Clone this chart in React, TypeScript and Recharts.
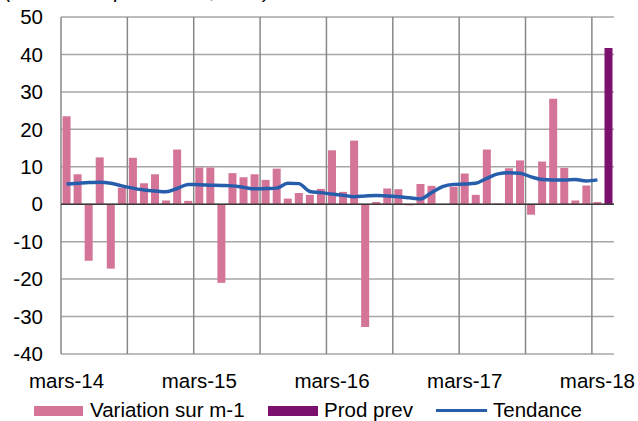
import React from 'react';
import { ComposedChart, Bar, Line, XAxis, YAxis, CartesianGrid, ReferenceLine } from 'recharts';

// month labels, mars-14 .. avr.-18
const monthNames = ['janv.', 'févr.', 'mars', 'avr.', 'mai', 'juin', 'juil.', 'août', 'sept.', 'oct.', 'nov.', 'déc.'];
const firstYear = 14;
const firstMonth = 2; // mars
const monthCount = 50;

const months: string[] = [];
for (let i = 0; i < monthCount; i++) {
  const m = (firstMonth + i) % 12;
  const y = firstYear + Math.floor((firstMonth + i) / 12);
  months.push(`${monthNames[m]}-${y}`);
}

// Variation sur m-1
const variation = [
  23.5, 8.0, -15.1, 12.5, -17.2, 4.4, 12.4, 5.6, 8.0, 1.0, 14.6, 0.9,
  9.8, 9.8, -21.0, 8.3, 7.2, 8.0, 6.5, 9.5, 1.5, 3.0, 2.5, 4.1,
  14.4, 3.3, 17.0, -32.8, 0.6, 4.2, 4.0, -0.3, 5.4, 4.9, 0, 4.7,
  8.2, 2.5, 14.6, 0.2, 9.6, 11.7, -2.8, 11.4, 28.2, 9.7, 1.0, 5.0,
  0.6, null,
];

// Prod prev (only the last month)
const prodPrev = [
  null, null, null, null, null, null, null, null, null, null, null, null,
  null, null, null, null, null, null, null, null, null, null, null, null,
  null, null, null, null, null, null, null, null, null, null, null, null,
  null, null, null, null, null, null, null, null, null, null, null, null,
  null, 41.7,
];

// Tendance
const tendance = [
  5.4, 5.6, 5.8, 5.9, 5.6, 4.9, 4.3, 3.8, 3.5, 3.3, 4.2, 5.3,
  5.2, 5.1, 5.0, 4.9, 4.5, 4.1, 4.2, 4.3, 5.6, 5.5, 3.4, 3.1,
  2.7, 2.4, 2.0, 2.2, 2.3, 2.2, 2.0, 1.7, 1.4, 3.1, 4.7, 5.3,
  5.4, 5.6, 6.9, 8.1, 8.4, 8.3, 7.3, 6.6, 6.5, 6.5, 6.6, 6.2,
  6.5, null,
];

const yTicks = [-40, -30, -20, -10, 0, 10, 20, 30, 40, 50];

const data = months.map((month, i) => ({
  month,
  variation: variation[i],
  prodPrev: prodPrev[i],
  tendance: tendance[i],
}));

const PINK = '#D47498';
const PURPLE = '#7B106F';
const BLUE = '#275EAC';
const FONT = '"Liberation Sans", Arial, sans-serif';
const FS = 20.5;

export default function App() {
  return (
    <div style={{ position: 'absolute', left: 0, top: 0, width: 638, height: 421, fontFamily: FONT, overflow: 'hidden', background: '#fff' }}>
      <div style={{ position: 'absolute', left: 5, top: -19, fontSize: FS, lineHeight: '20px', fontStyle: 'italic', whiteSpace: 'nowrap' }}>
        (en % de la production, CVS)
      </div>
      <ComposedChart
        width={638}
        height={421}
        data={data}
        margin={{ top: 17, right: 24, bottom: 37, left: 0 }}
        barCategoryGap="14%"
      >
        <CartesianGrid vertical={false} stroke="#a6a6a6" strokeWidth={1.5} />
        <CartesianGrid
          horizontal={false}
          stroke="#888"
          strokeWidth={1.5}
          verticalCoordinatesGenerator={({ offset }: any) => {
            const step = offset.width / monthCount;
            const xs: number[] = [];
            for (let i = 0; i < monthCount; i += 6) xs.push(offset.left + i * step);
            return xs;
          }}
        />
        <XAxis
          dataKey="month"
          interval={0}
          axisLine={false}
          tickLine={false}
          tickSize={0}
          tickMargin={19}
          tick={{ fontSize: FS, fill: '#000', fontFamily: FONT }}
          tickFormatter={(v: string) => (v.startsWith('mars') ? v : '')}
        />
        <YAxis
          width={61}
          domain={[-40, 50]}
          ticks={yTicks}
          interval={0}
          axisLine={false}
          tickLine={false}
          tickSize={0}
          tickMargin={18}
          tick={{ fontSize: FS, fill: '#000', fontFamily: FONT }}
        />
        <ReferenceLine y={0} stroke="#3a3a3a" strokeWidth={1.5} />
        <Bar dataKey="variation" stackId="s" fill={PINK} isAnimationActive={false} />
        <Bar dataKey="prodPrev" stackId="s" fill={PURPLE} isAnimationActive={false} />
        <Line
          dataKey="tendance"
          type="monotone"
          stroke={BLUE}
          strokeWidth={3.5}
          dot={false}
          activeDot={false}
          isAnimationActive={false}
        />
      </ComposedChart>
      <div style={{ position: 'absolute', left: 0, top: 399, width: 638, height: 24, fontSize: FS, color: '#000' }}>
        <div style={{ position: 'absolute', left: 34, top: 7, width: 49, height: 10, background: PINK }} />
        <span style={{ position: 'absolute', left: 90, top: 0, lineHeight: '22px' }}>Variation sur m-1</span>
        <div style={{ position: 'absolute', left: 268, top: 7, width: 50, height: 10, background: PURPLE }} />
        <span style={{ position: 'absolute', left: 324, top: 0, lineHeight: '22px' }}>Prod prev</span>
        <div style={{ position: 'absolute', left: 436, top: 10, width: 51, height: 3, background: BLUE }} />
        <span style={{ position: 'absolute', left: 493, top: 0, lineHeight: '22px' }}>Tendance</span>
      </div>
    </div>
  );
}
